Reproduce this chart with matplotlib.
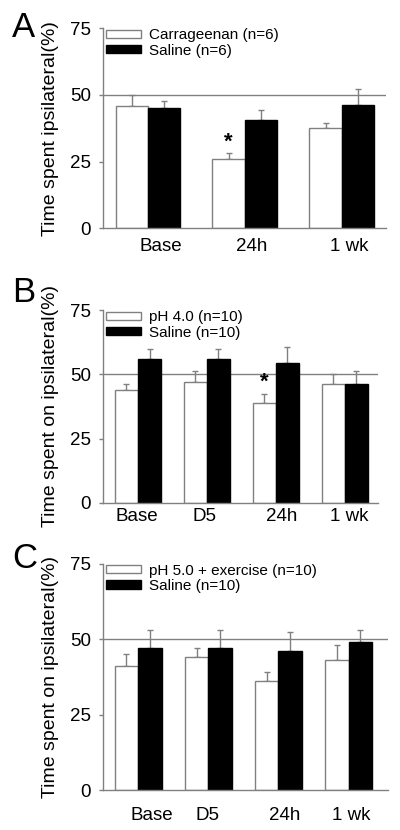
import matplotlib
matplotlib.use("Agg")
import matplotlib.pyplot as plt
import numpy as np
from matplotlib.patches import Patch

plt.rcParams['font.family'] = ['Liberation Sans', 'DejaVu Sans']

# ---------- data ----------
cats_a = ["Base", "24h", "1 wk"]
carr_mean = [46.0, 25.9, 37.5]
carr_err = [4.1, 2.2, 2.1]
salA_mean = [45.0, 40.6, 46.3]
salA_err = [2.8, 3.8, 6.0]

cats_b = ["Base", "D5", "24h", "1 wk"]
ph4_mean = [43.9, 46.9, 39.0, 46.2]
ph4_err = [2.2, 4.4, 3.5, 4.1]
salB_mean = [56.1, 56.1, 54.4, 46.1]
salB_err = [3.8, 3.8, 6.1, 5.2]

cats_c = ["Base", "D5", "24h", "1 wk"]
ph5_mean = [41.1, 44.0, 36.0, 43.0]
ph5_err = [3.8, 3.0, 3.0, 5.0]
salC_mean = [47.1, 47.1, 46.1, 49.0]
salC_err = [5.9, 5.9, 6.2, 4.0]

yticks = [0, 25, 50, 75]
legend_a = ["Carrageenan (n=6)", "Saline (n=6)"]
legend_b = ["pH 4.0 (n=10)", "Saline (n=10)"]
legend_c = ["pH 5.0 + exercise (n=10)", "Saline (n=10)"]

GRAY = "#808080"

fig = plt.figure(figsize=(4.0, 8.3), dpi=100)

def panel(rect, cats, m1, e1, m2, e2, labels, ylabel, xlim, lab_off,
          xpad, leg_anchor, star_idx, letter, letter_y, ylab_x):
    ax = fig.add_axes(rect)
    x = np.arange(len(cats))
    w = 0.335
    ax.bar(x - w/2, m1, w, color="white", edgecolor=GRAY, linewidth=1.0, zorder=2)
    ax.bar(x + w/2, m2, w, color="black", edgecolor="black", linewidth=1.0, zorder=2)
    ax.errorbar(x - w/2, m1, yerr=[np.zeros(len(m1)), e1], fmt="none",
                ecolor=GRAY, elinewidth=1.0, capsize=2.5, capthick=1.0, zorder=1)
    ax.errorbar(x + w/2, m2, yerr=[np.zeros(len(m2)), e2], fmt="none",
                ecolor=GRAY, elinewidth=1.0, capsize=2.5, capthick=1.0, zorder=1)
    ax.axhline(50, color=GRAY, lw=1.0, zorder=0)
    ax.set_xlim(*xlim)
    ax.set_ylim(0, 75)
    ax.set_yticks(yticks)
    ax.set_yticklabels([str(t) for t in yticks], fontsize=13.5)
    ax.set_xticks(x + np.array(lab_off))
    ax.set_xticklabels(cats, fontsize=13.5)
    ax.tick_params(axis='x', length=0, pad=xpad)
    ax.tick_params(axis='y', length=3, width=1, color=GRAY, pad=5.5)
    for s in ("top", "right"):
        ax.spines[s].set_visible(False)
    for s in ("left", "bottom"):
        ax.spines[s].set_color(GRAY)
        ax.spines[s].set_linewidth(1.0)
    ax.set_ylabel(ylabel, fontsize=14)
    ax.yaxis.set_label_coords(ylab_x, 0.5)
    handles = [Patch(facecolor="white", edgecolor=GRAY, lw=1.0),
               Patch(facecolor="black", edgecolor="black", lw=1.0)]
    ax.legend(handles, labels, loc="upper left", bbox_to_anchor=leg_anchor,
              frameon=False, fontsize=11, handlelength=2.3, handleheight=0.45,
              handletextpad=0.55, labelspacing=0.1, borderpad=0, borderaxespad=0)
    if star_idx is not None:
        ax.text(star_idx - w/2, m1[star_idx] + e1[star_idx] + 0.3, "*",
                ha="center", va="bottom", fontsize=16, fontweight="bold")
    fig.text(12/400, 1 - letter_y/830, letter, fontsize=25, ha="left", va="baseline")
    return ax

panel([103/400, 1 - 228.3/830, 283/400, 200/830], cats_a, carr_mean, carr_err,
      salA_mean, salA_err, legend_a, "Time spent ipsilateral(%)",
      (-0.464, 2.454), [0.13, 0.07, 0.07], 7, (0.01, 1.0), 1, "A", 37, -0.155)

panel([103/400, 1 - 502.7/830, 275/400, 192.5/830], cats_b, ph4_mean, ph4_err,
      salB_mean, salB_err, legend_b, "Time spent on ipsilateral(%)",
      (-0.507, 3.48), [-0.01, -0.03, 0.09, 0.07], 3.5, (0.01, 1.0), 2, "B", 302, -0.16)

panel([103/400, 1 - 790/830, 285/400, 226.5/830], cats_c, ph5_mean, ph5_err,
      salC_mean, salC_err, legend_c, "Time spent on ipsilateral(%)",
      (-0.50, 3.56), [0.2, -0.01, 0.09, 0.04], 12, (0.01, 1.0), None, "C", 568, -0.154)

fig.savefig("out.png", dpi=100)
